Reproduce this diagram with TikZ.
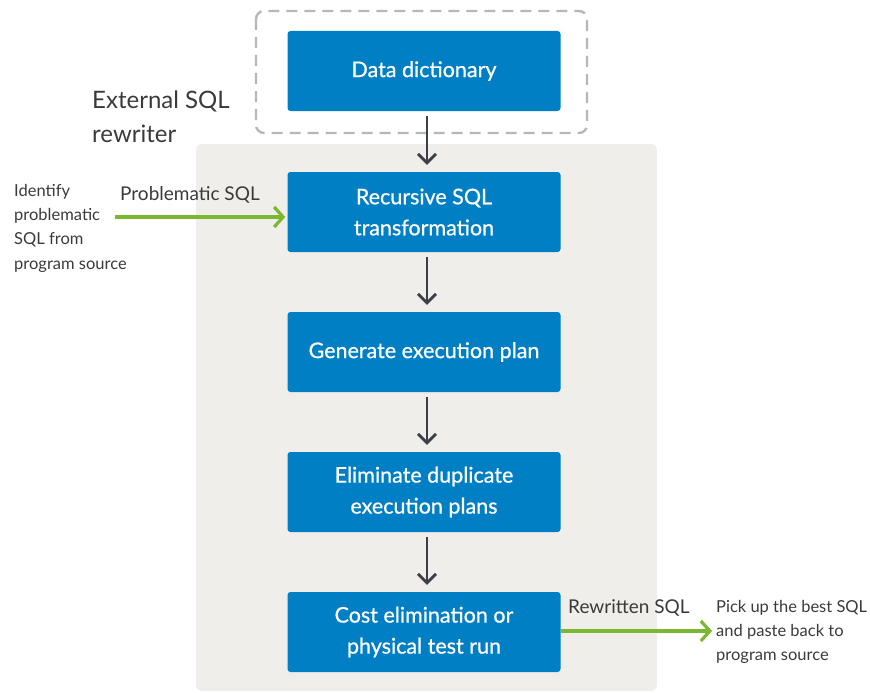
\documentclass[tikz,border=0pt]{standalone}
\usepackage{fontspec}
\setmainfont{Lato}
\newfontfamily\boxfont[FakeBold=0.7]{Lato}
\usetikzlibrary{arrows.meta}
\definecolor{dellblue}{HTML}{007FC4}
\definecolor{panelgray}{HTML}{EFEEEB}
\definecolor{dashgray}{HTML}{B5B8BB}
\definecolor{arrowgray}{HTML}{3C3F47}
\definecolor{leafgreen}{HTML}{7CB82F}
\definecolor{textgray}{HTML}{3A3A3A}
\tikzset{
  stepbox/.style={fill=dellblue, rounded corners=3pt, minimum width=273pt, minimum height=80pt,
    text=white, align=center, font=\boxfont\fontsize{21.5}{31}\selectfont, inner sep=0pt},
  flow/.style={draw=arrowgray, line width=2.8pt, -{Straight Barb[length=9pt,width=18pt,line width=2.8pt]}},
  green arrow/.style={draw=leafgreen, line width=3.4pt, -{Straight Barb[length=9pt,width=20pt,line width=3.2pt]}},
  side/.style={text=textgray, align=left, inner sep=0pt, anchor=north west},
}
\begin{document}
\begin{tikzpicture}[x=1pt,y=-1pt]
\useasboundingbox (0,0) rectangle (870,693);
% panel
\fill[panelgray, rounded corners=6pt] (196,144) rectangle (657,691);
% dashed box
\draw[dashgray, line width=2.4pt, dash pattern=on 11pt off 7pt, rounded corners=8pt] (256,11) rectangle (587,133);
% nodes
\node[stepbox] (dd) at (424,71) {Data dictionary};
\node[stepbox] (rec) at (424,212) {Recursive SQL\\transformation};
\node[stepbox] (gen) at (424,352) {Generate execution plan};
\node[stepbox] (elim) at (424,492) {Eliminate duplicate\\execution plans};
\node[stepbox] (cost) at (424,632) {Cost elimination or\\physical test run};
% flow arrows
\draw[flow] ([xshift=3pt,yshift=-5pt]dd.south) -- ([xshift=3pt,yshift=7pt]rec.north);
\draw[flow] ([xshift=3pt,yshift=-5pt]rec.south) -- ([xshift=3pt,yshift=7pt]gen.north);
\draw[flow] ([xshift=3pt,yshift=-5pt]gen.south) -- ([xshift=3pt,yshift=7pt]elim.north);
\draw[flow] ([xshift=3pt,yshift=-5pt]elim.south) -- ([xshift=3pt,yshift=7pt]cost.north);
% labels
\node[side, font=\fontsize{24}{34}\selectfont] (ext) at (92,91) {External SQL\\rewriter};
\node[side, font=\fontsize{16.5}{24.3}\selectfont] (ident) at (14,184) {Identify\\problematic\\SQL from\\program source};
\node[side, font=\fontsize{19}{22}\selectfont] (prob) at (120,186) {Problematic SQL};
\coordinate (inL) at (115,217);
\draw[green arrow] (inL) -- ([xshift=-2pt]rec.west |- inL);
\node[side, font=\fontsize{19}{22}\selectfont] (rew) at (568,599) {Rewritten SQL};
\coordinate (outR) at (712,631);
\draw[green arrow] (cost.east |- outR) -- (outR);
\node[side, font=\fontsize{16.5}{24}\selectfont] (pick) at (716,600) {Pick up the best SQL\\and paste back to\\program source};
\end{tikzpicture}
\end{document}
